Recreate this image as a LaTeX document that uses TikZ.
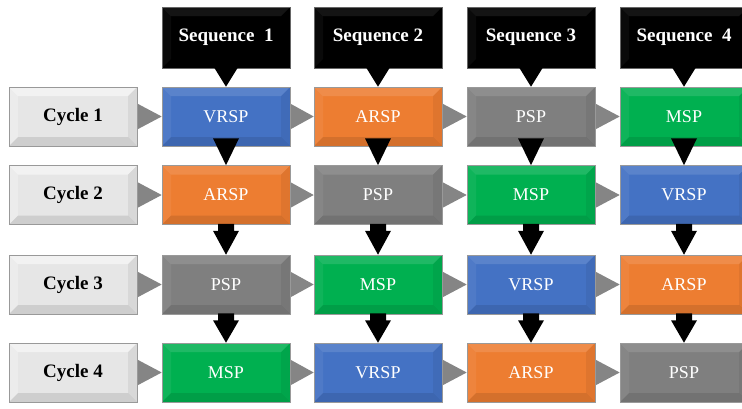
\documentclass[tikz,border=0pt]{standalone}
\usepackage{fontspec}
\setmainfont{Liberation Serif}
\usetikzlibrary{calc,backgrounds}
\definecolor{cblue}{HTML}{4472C4}
\definecolor{corange}{HTML}{ED7D31}
\definecolor{cgray}{HTML}{7F7F7F}
\definecolor{cgreen}{HTML}{00B050}
\definecolor{ccycle}{HTML}{E6E6E6}
\definecolor{carrow}{HTML}{858585}
\tikzset{
  bev/.style={path picture={
    \fill[white,opacity=#1] (path picture bounding box.north west) -- (path picture bounding box.north east)
      -- ([xshift=-9pt,yshift=-9pt]path picture bounding box.north east) -- ([xshift=9pt,yshift=-9pt]path picture bounding box.north west) -- cycle;
    \fill[white,opacity=#1*0.5] (path picture bounding box.north west) -- ([xshift=9pt,yshift=-9pt]path picture bounding box.north west)
      -- ([xshift=9pt,yshift=9pt]path picture bounding box.south west) -- (path picture bounding box.south west) -- cycle;
    \fill[black,opacity=0.10] (path picture bounding box.south west) -- (path picture bounding box.south east)
      -- ([xshift=-9pt,yshift=9pt]path picture bounding box.south east) -- ([xshift=9pt,yshift=9pt]path picture bounding box.south west) -- cycle;
    \fill[black,opacity=0.06] (path picture bounding box.north east) -- ([xshift=-9pt,yshift=-9pt]path picture bounding box.north east)
      -- ([xshift=-9pt,yshift=9pt]path picture bounding box.south east) -- (path picture bounding box.south east) -- cycle;
  }},
  box/.style={rectangle, minimum width=128pt, minimum height=59pt, inner sep=0pt,
    draw=black!40, line width=0.6pt, text=white, font=\fontsize{18}{20}\selectfont, bev=0.12},
  cyc/.style={box, fill=ccycle, text=black, font=\fontsize{19}{21}\selectfont\bfseries, bev=0.5},
  seq/.style={box, fill=black, minimum height=61pt, font=\fontsize{19}{21}\selectfont\bfseries, bev=0.08, draw=black!60},
  garrow/.style={fill=carrow},
  karrow/.style={fill=black},
}
\begin{document}
\begin{tikzpicture}[x=1pt,y=-1pt]
\useasboundingbox (0,0) rectangle (742,408);
\clip (0,0) rectangle (742,408);
% sequence callouts
\node[seq] (s1) at (226,37.5) {Sequence~~1};
\node[seq] (s2) at (378,37.5) {Sequence 2};
\node[seq] (s3) at (531,37.5) {Sequence 3};
\node[seq] (s4) at (684,37.5) {Sequence~~4};
% cycles
\node[cyc] (c1) at (73,116.5) {Cycle 1};
\node[cyc] (c2) at (73,195) {Cycle 2};
\node[cyc] (c3) at (73,284.5) {Cycle 3};
\node[cyc] (c4) at (73,372.5) {Cycle 4};
% row 1
\node[box,fill=cblue]   (b11) at (226,116.5) {VRSP};
\node[box,fill=corange] (b12) at (378,116.5) {ARSP};
\node[box,fill=cgray]   (b13) at (531,116.5) {PSP};
\node[box,fill=cgreen]  (b14) at (684,116.5) {MSP};
% row 2
\node[box,fill=corange] (b21) at (226,195) {ARSP};
\node[box,fill=cgray]   (b22) at (378,195) {PSP};
\node[box,fill=cgreen]  (b23) at (531,195) {MSP};
\node[box,fill=cblue]   (b24) at (684,195) {VRSP};
% row 3
\node[box,fill=cgray]   (b31) at (226,284.5) {PSP};
\node[box,fill=cgreen]  (b32) at (378,284.5) {MSP};
\node[box,fill=cblue]   (b33) at (531,284.5) {VRSP};
\node[box,fill=corange] (b34) at (684,284.5) {ARSP};
% row 4
\node[box,fill=cgreen]  (b41) at (226,372.5) {MSP};
\node[box,fill=cblue]   (b42) at (378,372.5) {VRSP};
\node[box,fill=corange] (b43) at (531,372.5) {ARSP};
\node[box,fill=cgray]   (b44) at (684,372.5) {PSP};
% gray horizontal arrows (behind boxes)
\begin{scope}[on background layer]
\foreach \r in {1,2,3,4}{
  \fill[garrow] ($(c\r.east)+(-2,-14)$) -- (b\r1.west) -- ($(c\r.east)+(-2,14)$) -- cycle;
  \foreach \a/\b in {1/2,2/3,3/4}{
    \fill[garrow] ($(b\r\a.east)+(-2,-14)$) -- (b\r\b.west) -- ($(b\r\a.east)+(-2,14)$) -- cycle;
  }
}
\end{scope}
% sequence pointers
\foreach \c in {1,2,3,4}{
  \fill[karrow] ($(s\c.south)+(-12,-1)$) -- (b1\c.north) -- ($(s\c.south)+(12,-1)$) -- cycle;
}
% black down arrows row1 -> row2
\foreach \c in {1,2,3,4}{
  \fill[karrow] ($(b1\c.south)+(-13,-8)$) -- (b2\c.north) -- ($(b1\c.south)+(13,-8)$) -- cycle;
}
% block arrows rows 2->3, 3->4
\foreach \r/\n in {2/3,3/4}{
  \foreach \c in {1,2,3,4}{
    \fill[karrow] ($(b\r\c.south)+(-8,-1)$) -- ($(b\r\c.south)+(-8,6)$) -- ($(b\r\c.south)+(-13,6)$)
      -- (b\n\c.north) -- ($(b\r\c.south)+(13,6)$) -- ($(b\r\c.south)+(8,6)$) -- ($(b\r\c.south)+(8,-1)$) -- cycle;
  }
}
\end{tikzpicture}
\end{document}
